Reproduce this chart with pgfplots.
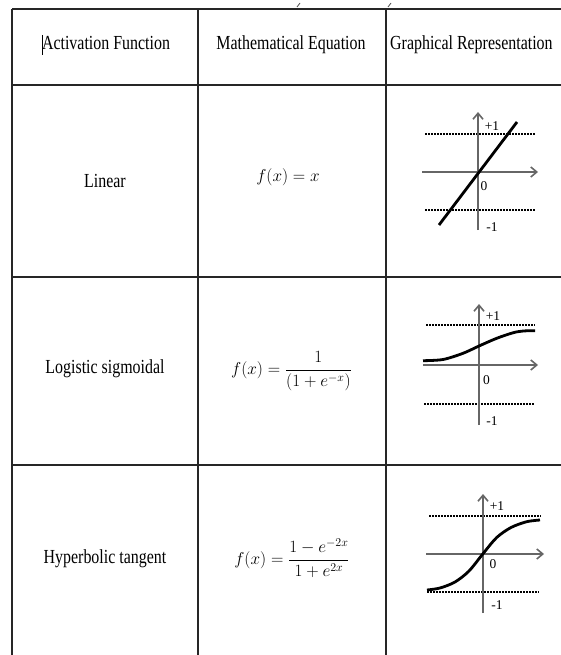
\documentclass[border=0pt]{standalone}
\usepackage{fontspec}
\setmainfont{Liberation Serif}
\usepackage{graphicx}
\usepackage{pgfplots}
\pgfplotsset{compat=1.18}
\usetikzlibrary{arrows.meta}
\newcommand{\cell}[1]{\scalebox{0.8}[1]{\fontsize{20}{24}\selectfont #1}}
\newcommand{\eqn}[1]{{\fontsize{17}{20}\selectfont $\displaystyle #1$}}
\newcommand{\lab}[1]{{\fontsize{13.5}{15}\selectfont #1}}
\begin{document}
\begin{tikzpicture}
\begin{axis}[
  scale only axis, width=561bp, height=655bp,
  xmin=0, xmax=561, ymin=0, ymax=655, y dir=reverse,
  hide axis, clip=false,
  tline/.style={line width=1.5bp, black!85, mark=none},
  maxis/.style={line width=1.2bp, black!60, mark=none,
     -{Straight Barb[length=6bp,width=10bp,line width=1.6bp]}},
  dots/.style={line width=1.3bp, black, mark=none, dash pattern=on 1.6bp off 1.4bp},
  curve/.style={line width=2.8bp, black, mark=none},
]
% table rules
\addplot[tline] coordinates {(12,9) (561,9)};
\addplot[tline] coordinates {(12,85) (561,85)};
\addplot[tline] coordinates {(12,277) (561,277)};
\addplot[tline] coordinates {(12,465) (561,465)};
\addplot[tline] coordinates {(12,9) (12,655)};
\addplot[tline] coordinates {(198,9) (198,655)};
\addplot[tline] coordinates {(386,9) (386,655)};
% small stray marks and cursor
\addplot[line width=0.8bp, black!70, mark=none] coordinates {(297,7) (300,3)};
\addplot[line width=0.8bp, black!70, mark=none] coordinates {(388,7) (391,3)};
\addplot[line width=0.9bp, black, mark=none] coordinates {(42.5,35) (42.5,55)};

% header and first column text
\node[anchor=base, inner sep=0] at (axis cs:106,50) {\cell{Activation Function}};
\node[anchor=base, inner sep=0] at (axis cs:291,50) {\cell{Mathematical Equation}};
\node[anchor=base west, inner sep=0] at (axis cs:390,50) {\cell{Graphical Representation}};
\node[anchor=base, inner sep=0] at (axis cs:105,187) {\cell{Linear}};
\node[anchor=base, inner sep=0] at (axis cs:105,373) {\cell{Logistic sigmoidal}};
\node[anchor=base, inner sep=0] at (axis cs:105,563) {\cell{Hyperbolic tangent}};

% equations
\node[inner sep=0] at (axis cs:288,177) {\eqn{f(x) = x}};
\node[inner sep=0] at (axis cs:291.5,371) {\eqn{f(x) = \frac{1}{(1+e^{-x})}}};
\node[inner sep=0] at (axis cs:292,558) {\eqn{f(x) = \frac{1-e^{-2x}}{1+e^{2x}}}};

% ---- linear graph
\addplot[dots] coordinates {(425,134) (535,134)};
\addplot[dots] coordinates {(425,210) (535,210)};
\addplot[maxis] coordinates {(478,230) (478,112)};
\addplot[maxis] coordinates {(422,172) (538,172)};
\addplot[curve] coordinates {(439,225) (517,122)};
\node[inner sep=0] at (axis cs:492,126) {\lab{+1}};
\node[inner sep=0] at (axis cs:484,186) {\lab{0}};
\node[inner sep=0] at (axis cs:492,227) {\lab{-1}};

% ---- sigmoid graph
\addplot[dots] coordinates {(426,325) (535,325)};
\addplot[dots] coordinates {(424,404) (534,404)};
\addplot[maxis] coordinates {(479,425) (479,304)};
\addplot[maxis] coordinates {(423,365) (538,365)};
\addplot[curve, smooth] coordinates {(423,360.7) (443,359.5) (463,353.3) (479,346) (496.7,338.3) (513.3,332.7) (523.3,331) (535,330.7)};
\node[inner sep=0] at (axis cs:493,316) {\lab{+1}};
\node[inner sep=0] at (axis cs:486.5,380) {\lab{0}};
\node[inner sep=0] at (axis cs:492,421) {\lab{-1}};

% ---- tanh graph
\addplot[dots] coordinates {(429,516) (541,516)};
\addplot[dots] coordinates {(427,592) (539,592)};
\addplot[maxis] coordinates {(483,613) (483,494)};
\addplot[maxis] coordinates {(426,554) (544,554)};
\addplot[curve, smooth] coordinates {(427,590) (440,588) (455,582) (469,571) (483.3,553.3) (496.7,537.5) (511,527.5) (526.7,521.7) (540,520)};
\node[inner sep=0] at (axis cs:497,506) {\lab{+1}};
\node[inner sep=0] at (axis cs:493,564) {\lab{0}};
\node[inner sep=0] at (axis cs:497,605) {\lab{-1}};
\end{axis}
\pgfresetboundingbox
\path (current axis.south west) rectangle (current axis.north east);
\end{tikzpicture}
\end{document}
